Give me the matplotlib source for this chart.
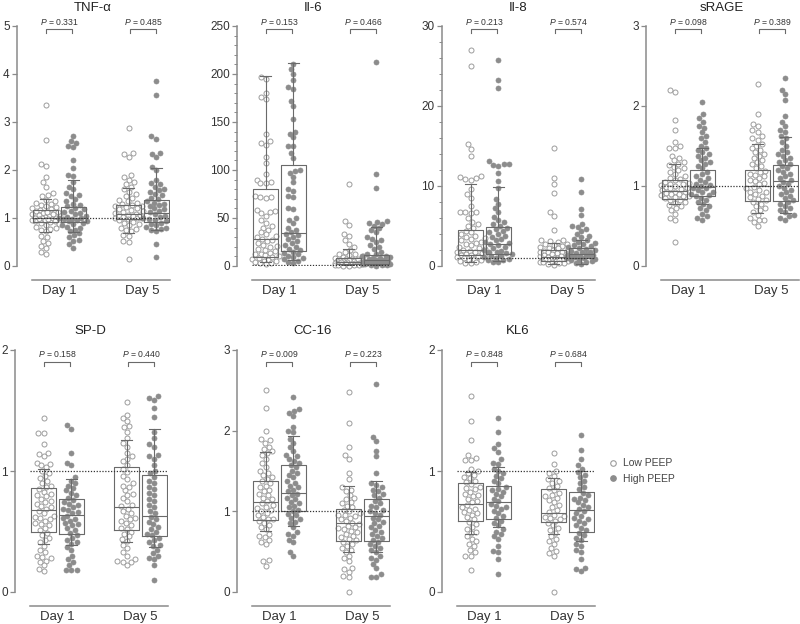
import numpy as np
import matplotlib.pyplot as plt
from matplotlib.lines import Line2D
from matplotlib.ticker import MultipleLocator
import matplotlib.transforms as mtransforms

plt.rcParams['font.family'] = ['Liberation Sans', 'DejaVu Sans']
plt.rcParams['mathtext.fontset'] = 'custom'
plt.rcParams['mathtext.it'] = 'Liberation Sans:italic'
plt.rcParams['mathtext.rm'] = 'Liberation Sans'

groups = ["Low PEEP", "High PEEP"]
days = ["Day 1", "Day 5"]

# ---- point values ----
tnf_low_d1 = [3.35, 2.63, 2.13, 2.08, 1.85, 1.75, 1.65, 1.52, 1.48, 1.45,
              1.38, 1.35, 1.32, 1.3, 1.28, 1.25, 1.22, 1.2, 1.18,
              1.16, 1.14, 1.12, 1.1, 1.08, 1.07, 1.05, 1.04, 1.02, 1.01, 1.0, 1.13, 1.09,
              0.99, 0.98, 0.97, 0.96, 0.95, 0.94, 0.93, 0.92, 0.97, 0.95,
              0.9, 0.88, 0.85, 0.82, 0.8, 0.78, 0.75, 0.72,
              0.62, 0.6, 0.52, 0.48, 0.42, 0.38, 0.3, 0.25]
tnf_high_d1 = [2.7, 2.6, 2.57, 2.5, 2.47, 2.2, 2.05, 1.9, 1.87,
               1.75, 1.65, 1.6, 1.52, 1.48, 1.45, 1.4, 1.35, 1.3, 1.27, 1.24,
               1.2, 1.18, 1.15, 1.12, 1.1, 1.08, 1.05, 1.03, 1.01,
               0.99, 0.97, 0.96, 0.94, 0.93, 0.98,
               0.9, 0.88, 0.85, 0.82, 0.8, 0.76, 0.72,
               0.68, 0.65, 0.6, 0.55, 0.53, 0.45, 0.38]
tnf_low_d5 = [2.87, 2.35, 2.33, 2.28, 1.9, 1.85, 1.8, 1.75, 1.7, 1.65,
              1.6, 1.55, 1.5, 1.45, 1.42, 1.38, 1.35, 1.32, 1.3,
              1.27, 1.25, 1.22, 1.2, 1.18, 1.15, 1.12, 1.1, 1.09, 1.24, 1.16,
              1.07, 1.05, 1.04, 1.02, 1.0, 0.99, 0.98, 1.06, 1.01,
              0.95, 0.92, 0.9, 0.87, 0.85, 0.8, 0.78, 0.75, 0.72,
              0.65, 0.62, 0.53, 0.5, 0.15]
tnf_high_d5 = [3.85, 3.57, 2.7, 2.65, 2.35, 2.33, 2.27, 2.07,
               2.0, 1.8, 1.72, 1.7, 1.65, 1.6, 1.58, 1.55, 1.5, 1.47, 1.42, 1.4,
               1.35, 1.32, 1.3, 1.27, 1.25, 1.2, 1.18, 1.15, 1.12,
               1.08, 1.05, 1.02, 1.0, 0.98, 0.96, 0.93,
               0.9, 0.88, 0.85, 0.82, 0.8, 0.78, 0.76,
               0.73, 0.45, 0.18]

il6_low_d1 = [197, 195, 180, 176, 174,
              138, 130, 128, 126, 114, 107, 96, 90, 87, 86, 86,
              73, 72, 72, 71, 58, 57, 56, 55, 52, 48, 45, 42, 40, 38, 35, 33, 31, 30,
              28, 26, 24, 22, 20, 18, 16, 14, 13, 12, 11, 10, 27, 21, 17,
              9, 8, 7, 6, 5.5, 5, 4.5, 3.5, 3, 2]
il6_high_d1 = [210, 205, 200, 194, 186, 184, 172, 167, 153, 140, 138, 134, 125, 125, 118, 113,
               100, 99, 97, 93, 87, 80, 78, 73, 72, 60, 59, 50, 48, 45, 40, 37, 35,
               33, 32, 30, 28, 26, 24, 22, 20, 18, 17,
               15, 14, 12, 10, 9, 8, 7, 5, 4, 3]
il6_low_d5 = [85, 47, 43, 33, 31, 27, 23, 20,
              17, 15, 13, 12, 11, 10, 9,
              8, 7.5, 7, 6.5, 6, 5.5, 5, 4.5, 4.2, 5.2, 6.2, 7.2,
              3.9, 3.6, 3.3, 3, 2.8, 2.6, 2.5, 3.5, 3.1, 3.8, 3.4, 2.9,
              2.2, 2, 1.8, 1.5, 1.2, 1, 0.8, 2.1, 1.6, 0.5, 0.3]
il6_high_d5 = [212, 96, 81, 47, 46, 45, 44, 42,
               40, 37, 35, 30, 28, 27, 25, 22, 20, 18, 15, 13, 12,
               10.5, 10, 9, 8.5, 8, 7, 6.5, 6,
               5.5, 5, 4.5, 4, 3.5, 3, 2.7, 2.5,
               2.2, 2, 1.8, 1.5, 1.2, 1, 0.5]

il8_low_d1 = [27, 25, 15.2, 14.6, 13.7, 11.3, 11.1, 11.0, 10.9, 10.8,
              9.6, 9.0, 8.5, 7.5, 6.8, 6.7, 6.7, 6.6, 6.0, 5.5, 5.2, 5.0, 4.8,
              4.4, 4.2, 4.0, 3.8, 3.6, 3.4, 3.2, 3.0, 2.8, 2.6, 2.4, 2.2, 2.1, 3.5, 2.9,
              1.95, 1.9, 1.8, 1.7, 1.6, 1.5, 1.4, 1.35,
              1.3, 1.2, 1.1, 1.0, 0.9, 0.8, 0.7, 0.6, 0.45, 0.4, 0.35]
il8_high_d1 = [25.8, 23.3, 22.3, 13.1, 12.8, 12.7, 12.6, 12.5, 11.6, 10.6,
               9.8, 8.4, 7.8, 7.2, 6.7, 6.1, 5.8, 5.5, 5.2, 5.0,
               4.8, 4.6, 4.4, 4.2, 4.0, 3.8, 3.6, 3.4, 3.2, 3.0, 2.9,
               2.7, 2.6, 2.4, 2.2, 2.0, 1.9, 1.8, 1.7, 1.6,
               1.45, 1.3, 1.2, 1.1, 1.0, 0.9, 0.8, 0.7, 0.5, 0.45]
il8_low_d5 = [14.8, 11.0, 10.3, 9.1, 6.8, 6.3, 4.5, 3.3, 3.2, 3.1, 3.0,
              2.8, 2.7, 2.6, 2.5, 2.4, 2.3, 2.2, 2.1,
              1.95, 1.9, 1.8, 1.7, 1.6, 1.5, 1.4, 1.3, 1.2, 1.15, 1.75, 1.45,
              1.05, 1.0, 0.95, 0.9, 0.85, 0.8, 0.75, 0.7, 0.65, 0.62, 0.88, 0.78,
              0.55, 0.5, 0.45, 0.4, 0.35, 0.2, 0.15]
il8_high_d5 = [10.9, 9.3, 7.1, 6.4, 5.2, 5.0, 4.9, 4.6, 4.4, 4.0, 3.8, 3.6, 3.4,
               3.2, 3.0, 2.9, 2.7, 2.6, 2.5, 2.4, 2.3,
               2.1, 2.0, 1.9, 1.8, 1.7, 1.6, 1.5,
               1.4, 1.35, 1.3, 1.25, 1.2, 1.1, 1.05,
               0.95, 0.9, 0.8, 0.7, 0.6, 0.5, 0.4, 0.25]

srage_low_d1 = [2.2, 2.17, 1.83, 1.7, 1.55, 1.5, 1.48, 1.48, 1.38, 1.35, 1.32, 1.3, 1.28,
                1.26, 1.24, 1.22, 1.2, 1.18, 1.15, 1.12, 1.1, 1.09,
                1.07, 1.05, 1.03, 1.02, 1.0, 0.99, 0.98, 0.97, 0.96, 0.95, 1.04, 1.01,
                0.93, 0.92, 0.91, 0.9, 0.89, 0.88, 0.87, 0.86, 0.85, 0.9,
                0.83, 0.82, 0.8, 0.79,
                0.76, 0.75, 0.72, 0.7, 0.65, 0.6, 0.58, 0.3]
srage_high_d1 = [2.05, 1.9, 1.85, 1.8, 1.75, 1.73, 1.67, 1.63, 1.6, 1.55, 1.5,
                 1.47, 1.45, 1.42, 1.4, 1.38, 1.35, 1.32, 1.3, 1.28, 1.25, 1.22,
                 1.18, 1.15, 1.12, 1.1, 1.08, 1.05, 1.03, 1.01, 1.0,
                 0.98, 0.97, 0.95, 0.93, 0.92, 0.9, 0.89,
                 0.87, 0.85, 0.83, 0.8, 0.78,
                 0.75, 0.72, 0.7, 0.65, 0.62, 0.6, 0.58]
srage_low_d5 = [2.28, 1.9, 1.78, 1.75, 1.7, 1.68, 1.62, 1.6, 1.58,
                1.52, 1.5, 1.47, 1.45, 1.42, 1.4, 1.37, 1.35, 1.32, 1.3, 1.27, 1.25, 1.22,
                1.19, 1.17, 1.15, 1.12, 1.1, 1.08, 1.06, 1.04, 1.02, 1.14,
                0.99, 0.97, 0.95, 0.93, 0.9, 0.88, 0.86, 0.84, 0.82, 0.92,
                0.8, 0.78, 0.75, 0.72, 0.7, 0.68,
                0.64, 0.6, 0.58, 0.57, 0.55, 0.5]
srage_high_d5 = [2.35, 2.2, 2.15, 2.07, 1.88, 1.8, 1.75, 1.7, 1.68, 1.63,
                 1.6, 1.55, 1.5, 1.45, 1.42, 1.4, 1.38, 1.35, 1.32, 1.3, 1.28,
                 1.25, 1.22, 1.2, 1.18, 1.15, 1.12, 1.1, 1.08,
                 1.05, 1.02, 1.0, 0.98, 0.95, 0.92, 0.9, 0.87, 0.85, 0.82,
                 0.8, 0.78, 0.75, 0.72, 0.7, 0.68,
                 0.64, 0.62, 0.6, 0.57]

spd_low_d1 = [1.44, 1.31, 1.31, 1.22, 1.15, 1.14, 1.12, 1.07, 1.06, 1.05, 1.03,
              1.0, 0.98, 0.96, 0.94, 0.92, 0.9, 0.88, 0.87,
              0.85, 0.83, 0.81, 0.79, 0.77, 0.75, 0.73, 0.71, 0.7, 0.69, 0.8, 0.74,
              0.67, 0.65, 0.63, 0.61, 0.59, 0.57, 0.55, 0.53, 0.51, 0.6, 0.56, 0.62,
              0.49, 0.47, 0.45, 0.43, 0.41,
              0.38, 0.35, 0.33, 0.3, 0.29, 0.28, 0.26, 0.25, 0.22, 0.19, 0.17]
spd_high_d1 = [1.38, 1.35, 1.15, 1.07, 1.05, 0.95,
               0.92, 0.9, 0.88, 0.86, 0.84, 0.82, 0.8, 0.78,
               0.76, 0.74, 0.72, 0.7, 0.68, 0.66, 0.65, 0.73, 0.69,
               0.63, 0.61, 0.59, 0.57, 0.55, 0.53, 0.51, 0.49, 0.6, 0.56,
               0.47, 0.45, 0.43, 0.41, 0.4,
               0.37, 0.35, 0.3, 0.27, 0.25, 0.22, 0.18, 0.18, 0.18]
spd_low_d5 = [1.57, 1.46, 1.44, 1.41, 1.37, 1.36, 1.32, 1.27,
              1.23, 1.2, 1.15, 1.12, 1.1, 1.08, 1.05,
              1.02, 0.99, 0.96, 0.93, 0.9, 0.87, 0.84, 0.81, 0.78, 0.75, 0.72, 0.71, 0.88, 0.8,
              0.69, 0.67, 0.65, 0.63, 0.61, 0.59, 0.57, 0.55, 0.53, 0.52, 0.6,
              0.5, 0.48, 0.46, 0.44, 0.42,
              0.39, 0.36, 0.33, 0.3, 0.27, 0.26, 0.25, 0.25, 0.22]
spd_high_d5 = [1.62, 1.6, 1.59, 1.52, 1.45,
               1.32, 1.27, 1.22, 1.2, 1.13, 1.12, 1.1, 1.05, 1.0, 0.98,
               0.95, 0.92, 0.9, 0.87, 0.85, 0.82, 0.8, 0.77, 0.75, 0.72, 0.7, 0.67, 0.65,
               0.62, 0.6, 0.58, 0.56, 0.54, 0.52, 0.5, 0.48, 0.47,
               0.45, 0.43, 0.41, 0.39, 0.38,
               0.35, 0.32, 0.3, 0.28, 0.27, 0.22, 0.1]

cc16_low_d1 = [2.5, 2.28, 2.0, 1.9, 1.88, 1.85, 1.8, 1.77, 1.75,
               1.72, 1.7, 1.65, 1.6, 1.55, 1.5, 1.47, 1.45, 1.42, 1.4,
               1.37, 1.35, 1.32, 1.3, 1.27, 1.25, 1.22, 1.2, 1.17, 1.15, 1.13,
               1.1, 1.08, 1.05, 1.02, 1.0, 0.98, 0.95, 0.93, 0.91, 0.9, 1.04,
               0.88, 0.85, 0.83, 0.8, 0.78,
               0.72, 0.7, 0.68, 0.65, 0.62, 0.6, 0.4, 0.38, 0.32]
cc16_high_d1 = [2.42, 2.27, 2.25, 2.22, 2.18, 2.05, 2.0, 1.98,
                1.9, 1.85, 1.8, 1.75, 1.7, 1.68, 1.65, 1.62, 1.6,
                1.57, 1.55, 1.5, 1.47, 1.45, 1.42, 1.38, 1.35, 1.32, 1.3, 1.27, 1.25,
                1.22, 1.2, 1.17, 1.15, 1.12, 1.1, 1.07, 1.05, 1.02, 1.0,
                0.97, 0.95, 0.92, 0.9, 0.87, 0.85,
                0.8, 0.75, 0.72, 0.7, 0.65, 0.62, 0.5, 0.45]
cc16_low_d5 = [2.48, 2.1, 1.8, 1.7, 1.65, 1.47, 1.4,
               1.3, 1.27, 1.25, 1.2, 1.17, 1.15, 1.12, 1.1, 1.07, 1.05,
               1.02, 1.0, 0.98, 0.96, 0.94, 0.92, 0.9, 0.88, 0.86, 0.95,
               0.84, 0.82, 0.8, 0.78, 0.76, 0.74, 0.72, 0.7, 0.68, 0.66, 0.64, 0.79,
               0.62, 0.6, 0.57, 0.55, 0.52, 0.5,
               0.45, 0.42, 0.38, 0.3, 0.28, 0.25, 0.2, 0.18, 0.0]
cc16_high_d5 = [2.58, 1.92, 1.87, 1.75, 1.68, 1.48, 1.35,
                1.33, 1.3, 1.27, 1.25, 1.22, 1.2, 1.17,
                1.13, 1.1, 1.07, 1.05, 1.02, 1.0, 0.98, 0.96,
                0.92, 0.9, 0.87, 0.85, 0.82, 0.8, 0.77, 0.75, 0.72, 0.7, 0.67, 0.65,
                0.62, 0.6, 0.57, 0.55, 0.52, 0.5,
                0.45, 0.42, 0.4, 0.35, 0.3, 0.22, 0.18, 0.18]

kl6_low_d1 = [1.62, 1.41, 1.26, 1.13, 1.11, 1.09, 1.09, 1.02, 1.0,
              0.98, 0.97, 0.95, 0.94, 0.92, 0.91,
              0.89, 0.87, 0.85, 0.83, 0.81, 0.79, 0.77, 0.75, 0.74, 0.8, 0.86,
              0.72, 0.7, 0.68, 0.66, 0.64, 0.62, 0.6, 0.69, 0.65,
              0.58, 0.56, 0.54, 0.52, 0.5, 0.49,
              0.46, 0.44, 0.42, 0.4, 0.38, 0.35, 0.33, 0.3, 0.3, 0.18]
kl6_high_d1 = [1.44, 1.32, 1.22, 1.19, 1.16, 1.1, 1.07, 1.06,
               1.02, 1.0, 0.98, 0.96, 0.94, 0.92, 0.9,
               0.87, 0.85, 0.83, 0.81, 0.79, 0.77, 0.75, 0.84,
               0.73, 0.71, 0.69, 0.67, 0.65, 0.63, 0.61, 0.7,
               0.59, 0.57, 0.55,
               0.52, 0.5, 0.48, 0.46, 0.44, 0.38, 0.34, 0.33, 0.27, 0.15]
kl6_low_d5 = [1.15, 1.06, 1.0, 0.98, 0.96,
              0.93, 0.92, 0.9, 0.88, 0.86,
              0.84, 0.82, 0.8, 0.78, 0.76, 0.74, 0.72, 0.7, 0.68, 0.66, 0.79,
              0.64, 0.63, 0.62, 0.61, 0.6, 0.59,
              0.57, 0.55, 0.53, 0.51, 0.49,
              0.46, 0.44, 0.42, 0.4, 0.36, 0.34, 0.32, 0.3, 0.0]
kl6_high_d5 = [1.3, 1.17, 1.1, 1.05, 1.02,
               0.99, 0.97, 0.95, 0.92, 0.9, 0.87, 0.85,
               0.82, 0.8, 0.78, 0.76, 0.74, 0.72, 0.7, 0.69, 0.77,
               0.67, 0.65, 0.63, 0.61, 0.59, 0.57, 0.55, 0.53, 0.51, 0.6,
               0.49, 0.47, 0.45, 0.43,
               0.4, 0.38, 0.35, 0.33, 0.27, 0.2, 0.19, 0.17]

# ---- box stats: whisker low, Q1, median, Q3, whisker high (Low D1, High D1, Low D5, High D5) ----
tnf_box = [[0.71, 0.92, 1.00, 1.17, 1.40], [0.70, 0.92, 1.00, 1.22, 1.79],
           [0.69, 0.97, 1.08, 1.28, 1.62], [0.75, 0.92, 1.10, 1.37, 2.05]]
il6_box = [[4, 9.4, 28.5, 80, 197.6], [6, 16, 34, 105, 211],
           [0.7, 2.4, 4, 8.7, 18], [0.7, 2.4, 5.9, 11, 40.6]]
il8_box = [[0.5, 1.33, 2.0, 4.5, 10.3], [0.6, 1.5, 2.8, 4.9, 9.9],
           [0.3, 0.6, 1.1, 2.0, 2.9], [0.3, 1.0, 1.45, 2.2, 3.3]]
srage_box = [[0.78, 0.84, 0.94, 1.08, 1.27], [0.77, 0.88, 0.99, 1.20, 1.48],
             [0.66, 0.81, 1.00, 1.20, 1.53], [0.66, 0.81, 1.06, 1.26, 1.61]]
spd_box = [[0.40, 0.50, 0.68, 0.86, 1.02], [0.39, 0.48, 0.64, 0.77, 0.93],
           [0.41, 0.51, 0.70, 1.03, 1.26], [0.37, 0.46, 0.63, 0.97, 1.35]]
cc16_box = [[0.76, 0.89, 1.12, 1.38, 1.73], [0.82, 1.00, 1.23, 1.58, 1.93],
            [0.49, 0.63, 0.85, 1.03, 1.31], [0.49, 0.63, 0.94, 1.15, 1.37]]
kl6_box = [[0.48, 0.59, 0.73, 0.90, 0.99], [0.54, 0.60, 0.74, 0.88, 1.03],
           [0.48, 0.58, 0.65, 0.85, 0.94], [0.42, 0.50, 0.68, 0.83, 1.00]]

titles = ["TNF-α", "Il-6", "Il-8", "sRAGE", "SP-D", "CC-16", "KL6"]
p_values = [["0.331", "0.485"], ["0.153", "0.466"], ["0.213", "0.574"], ["0.098", "0.389"],
            ["0.158", "0.440"], ["0.009", "0.223"], ["0.848", "0.684"]]
y_max = [5, 250, 30, 3, 2, 3, 2]
y_step = [1, 50, 10, 1, 1, 1, 1]
y_minor = [None, 10, 2, None, None, None, None]

points = [
    [tnf_low_d1, tnf_high_d1, tnf_low_d5, tnf_high_d5],
    [il6_low_d1, il6_high_d1, il6_low_d5, il6_high_d5],
    [il8_low_d1, il8_high_d1, il8_low_d5, il8_high_d5],
    [srage_low_d1, srage_high_d1, srage_low_d5, srage_high_d5],
    [spd_low_d1, spd_high_d1, spd_low_d5, spd_high_d5],
    [cc16_low_d1, cc16_high_d1, cc16_low_d5, cc16_high_d5],
    [kl6_low_d1, kl6_high_d1, kl6_low_d5, kl6_high_d5],
]
boxes = [tnf_box, il6_box, il8_box, srage_box, spd_box, cc16_box, kl6_box]

W, H = 800, 624
# (axes left px, axes top px, axes bottom px, title centre px)
frames = [(32, 26, 266, 8), (252, 26, 266, 8), (457, 26, 266, 8), (661, 26, 266, 8),
          (30, 350, 592, 331), (252, 350, 592, 331), (457, 350, 592, 331)]
ax_w = 138
xpos = [1, 2, 4, 5]

grey_line = "#8a8a8a"
box_col = "#6a6a6a"
low_edge = "#9c9c9c"
high_face = "#8c8c8c"
text_col = "#333333"


def swarm(ax, x0, vals, dia=5.4, maxw=14.0):
    """Beeswarm offsets in pixels, then back to data x."""
    vals = np.asarray(vals, dtype=float)
    disp = ax.transData.transform(np.column_stack([np.full(len(vals), x0), vals]))
    ypx = disp[:, 1]
    xc = disp[0, 0]
    order = np.argsort(ypx)
    placed = []
    off = np.zeros(len(vals))
    for i in order:
        y = ypx[i]
        near = [(px, py) for px, py in placed if abs(py - y) < dia]
        cands = [0.0]
        for px, py in near:
            dx = np.sqrt(max(dia ** 2 - (py - y) ** 2, 0))
            cands += [px + dx, px - dx]
        cands = sorted(cands, key=lambda c: (abs(c), c))
        best = None
        for c in cands:
            if abs(c) > maxw:
                continue
            if all((c - px) ** 2 + (y - py) ** 2 >= dia ** 2 - 1e-6 for px, py in near):
                best = c
                break
        if best is None:
            grid = np.linspace(-maxw, maxw, 29)
            score = [min([np.hypot(g - px, y - py) for px, py in near] + [99]) for g in grid]
            best = grid[int(np.argmax(score))]
        off[i] = best
        placed.append((best, y))
    xd = ax.transData.inverted().transform(np.column_stack([xc + off, ypx]))[:, 0]
    return xd


fig = plt.figure(figsize=(W / 100, H / 100), dpi=100)

for k in range(7):
    left, top, bottom, title_y = frames[k]
    axh = bottom - top
    ax = fig.add_axes([left / W, (H - bottom) / H, ax_w / W, axh / H])
    ax.set_xlim(0.5, 5.5)
    ax.set_ylim(0, y_max[k])

    for s in ["top", "right"]:
        ax.spines[s].set_visible(False)
    ax.spines["left"].set_position(("outward", 11))
    ax.spines["bottom"].set_position(("outward", 10))
    for s in ["left", "bottom"]:
        ax.spines[s].set_color(grey_line)
        ax.spines[s].set_linewidth(1.1)

    ax.yaxis.set_major_locator(MultipleLocator(y_step[k]))
    if y_minor[k]:
        ax.yaxis.set_minor_locator(MultipleLocator(y_minor[k]))
        ax.tick_params(axis="y", which="minor", length=2, width=0.7, color=grey_line)
    ax.tick_params(axis="y", which="major", length=3.5, width=0.9, color=grey_line,
                   labelsize=8.5, labelcolor=text_col, pad=1.5)
    ax.set_xticks([1.5, 4.5])
    ax.set_xticklabels(days)
    ax.tick_params(axis="x", length=0, labelsize=9.5, labelcolor=text_col, pad=4)

    ax.axhline(1, color="#333333", lw=0.9, ls=(0, (1, 1.3)), zorder=4)

    for j in range(4):
        vals = points[k][j]
        xs = swarm(ax, xpos[j], vals)
        if j % 2 == 0:
            ax.scatter(xs, vals, s=13, facecolor="white", edgecolor=low_edge,
                       linewidth=0.7, zorder=2, clip_on=False)
        else:
            ax.scatter(xs, vals, s=13, facecolor=high_face, edgecolor=high_face,
                       linewidth=0.5, zorder=2, clip_on=False)

    stats = []
    for b in boxes[k]:
        stats.append({"whislo": b[0], "q1": b[1], "med": b[2], "q3": b[3],
                      "whishi": b[4], "fliers": []})
    lp = dict(color=box_col, linewidth=0.8)
    ax.bxp(stats, positions=xpos, widths=0.9, capwidths=0.4, showfliers=False,
           boxprops=lp, whiskerprops=lp, capprops=lp, medianprops=lp,
           manage_ticks=False, zorder=3)

    # P-value brackets
    if k < 4:
        yb, yt, ytext = 1 - 3 / axh, 1 - 7 / axh, 1 + 4 / axh
    else:
        yb, yt, ytext = 1 - 12 / axh, 1 - 16 / axh, 1 - 4 / axh
    trans = mtransforms.blended_transform_factory(ax.transData, ax.transAxes)
    for d, (xa, xb) in enumerate([(1, 1.95), (4.05, 5)]):
        ax.plot([xa, xa, xb, xb], [yt, yb, yb, yt], transform=trans, color=box_col,
                lw=0.8, clip_on=False)
        ax.text((xa + xb) / 2, ytext, "$P$ = " + p_values[k][d], transform=trans,
                ha="center", va="center", fontsize=6.2, color=text_col)

    ax.text(0.44, 1 + (top - title_y) / axh, titles[k], transform=ax.transAxes,
            ha="center", va="center", fontsize=9.5, color="#222222")

handles = [Line2D([], [], ls="none", marker="o", ms=4, mfc="white", mec=low_edge, mew=0.8),
           Line2D([], [], ls="none", marker="o", ms=4, mfc=high_face, mec=high_face, mew=0.8)]
fig.legend(handles, groups, loc="center left", bbox_to_anchor=(598 / W, (H - 471) / H),
           frameon=False, fontsize=7.5, handlelength=1.0, handletextpad=0.5,
           labelspacing=0.5, labelcolor="#444444")

fig.savefig("out.png", dpi=100)
